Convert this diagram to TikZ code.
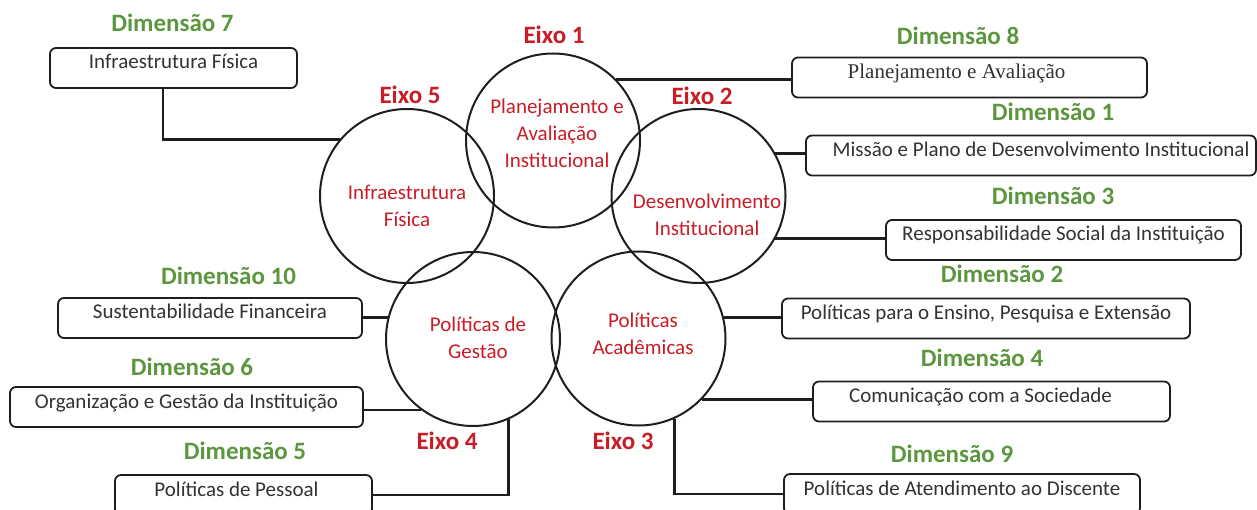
\documentclass[tikz,border=0pt]{standalone}
\usepackage{fontspec}
\setmainfont{Carlito}
\newfontfamily\boxserif{Liberation Serif}
\definecolor{eixored}{RGB}{200,28,38}
\definecolor{dimgreen}{RGB}{92,150,62}
\definecolor{boxtext}{RGB}{50,50,50}
\definecolor{linecol}{RGB}{30,30,30}
\begin{document}
\begin{tikzpicture}[x=1pt,y=-1pt,
  axiscircle/.style={circle, draw=linecol, line width=2pt, minimum size=174pt, inner sep=0pt},
  circtext/.style={font=\fontsize{21}{27}\selectfont, text=eixored, align=center, inner sep=0pt},
  eixolabel/.style={font=\bfseries\fontsize{25}{30}\selectfont, text=eixored, text height=16pt, text depth=0pt, inner sep=0pt},
  dimlabel/.style={font=\bfseries\fontsize{25}{30}\selectfont, text=dimgreen, text height=16pt, text depth=0pt, inner sep=0pt},
  dimbox/.style={draw=linecol, line width=1.8pt, rounded corners=6pt, minimum height=40pt, inner xsep=0pt, inner ysep=0pt, text height=21pt, text depth=19pt, font=\fontsize{21}{25}\selectfont, text=boxtext},
  conn/.style={draw=linecol, line width=2.6pt}
]
\useasboundingbox (0,0) rectangle (1257,510);
\clip (0,0) rectangle (1257,510);

% circles
\node[axiscircle] (e1) at (553,140.5) {};
\node[axiscircle] (e2) at (698.5,196) {};
\node[axiscircle] (e5) at (407,196) {};
\node[axiscircle] (e4) at (473,339) {};
\node[axiscircle] (e3) at (638.5,338.5) {};

% circle texts
\node[circtext] (t1) at (557,133) {Planejamento e\\Avaliação\\Institucional};
\node[circtext] (t2) at (707,215) {Desenvolvimento\\Institucional};
\node[circtext] (t5) at (407,206) {Infraestrutura\\Física};
\node[circtext] (t4) at (478,338) {Políticas de\\Gestão};
\node[circtext] (t3) at (643,334) {Políticas\\Acadêmicas};

% eixo labels
\node[eixolabel] (l1) at (554,36) {Eixo 1};
\node[eixolabel] (l2) at (702,97) {Eixo 2};
\node[eixolabel] (l5) at (410,96) {Eixo 5};
\node[eixolabel] (l4) at (447,441) {Eixo 4};
\node[eixolabel] (l3) at (623,441) {Eixo 3};

% dimension boxes
\node[dimbox, minimum width=247pt] (d7) at (173.5,68) {Infraestrutura Física};
\node[dimbox, minimum width=355pt, font=\boxserif\fontsize{21}{25}\selectfont] (d8) at (969.5,77.5) {\hspace*{-26pt}Planejamento e Avaliação};
\node[dimbox, minimum width=450pt] (d1) at (1031,155.5) {\hspace*{20pt}Missão e Plano de Desenvolvimento Institucional};
\node[dimbox, minimum width=355pt] (d3) at (1063.5,240) {Responsabilidade Social da Instituição};
\node[dimbox, minimum width=408pt] (d2) at (986,318.5) {Políticas para o Ensino, Pesquisa e Extensão};
\node[dimbox, minimum width=357pt] (d4) at (991.5,401.5) {\hspace*{-22pt}Comunicação com a Sociedade};
\node[dimbox, minimum width=356pt] (d9) at (962,494) {Políticas de Atendimento ao Discente};
\node[dimbox, minimum width=304pt] (d10) at (210,318) {Sustentabilidade Financeira};
\node[dimbox, minimum width=353pt] (d6) at (186.5,407) {Organização e Gestão da Instituição};
\node[dimbox, minimum width=257pt] (d5) at (243.5,495) {\hspace*{-14pt}Políticas de Pessoal};

% dimension labels
\node[dimlabel] (g7) at (172.5,24) {Dimensão 7};
\node[dimlabel] (g8) at (958,37) {Dimensão 8};
\node[dimlabel] (g1) at (1053,113) {Dimensão 1};
\node[dimlabel] (g3) at (1053,197) {Dimensão 3};
\node[dimlabel] (g2) at (1002,275) {Dimensão 2};
\node[dimlabel] (g4) at (982,358) {Dimensão 4};
\node[dimlabel] (g9) at (952,454) {Dimensão 9};
\node[dimlabel] (g10) at (228.5,277) {Dimensão 10};
\node[dimlabel] (g6) at (192,367) {Dimensão 6};
\node[dimlabel] (g5) at (245,451) {Dimensão 5};

% connectors
\draw[conn] (e1.44) -- (e1.44 -| d8.west);
\draw[conn] (e5.140) -| ([xshift=-10.5pt]d7.south);
\draw[conn] (e2.29) -- (e2.29 -| d1.west);
\draw[conn] (e2.-29) -- (e2.-29 -| d3.west);
\draw[conn] (e3.14) -- (e3.14 -| d2.west);
\draw[conn] (e3.-44) -- (e3.-44 -| d4.west);
\draw[conn] (e3.-66) |- (d9.west);
\draw[conn] (e4.166) -- (e4.166 -| d10.east);
\draw[conn] (e4.234) -- (e4.234 -| d6.east);
\draw[conn] (e4.-66) |- (d5.east);
\end{tikzpicture}
\end{document}
